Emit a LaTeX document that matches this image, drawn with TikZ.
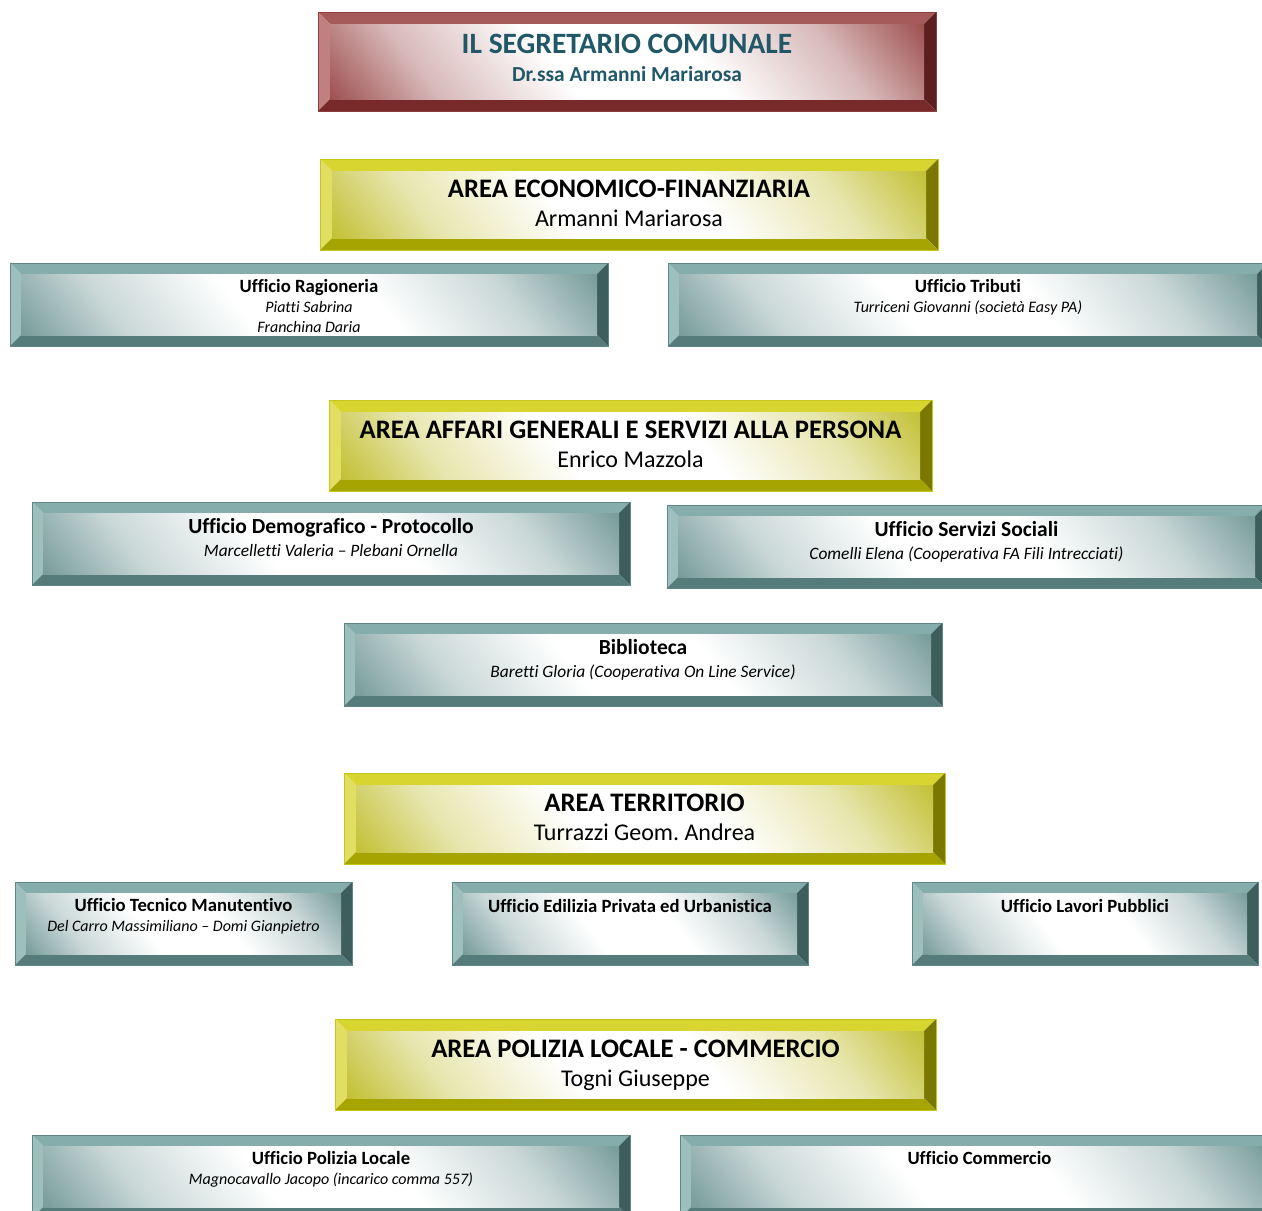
\documentclass[tikz,border=0pt]{standalone}
\usepackage{fontspec}
\setmainfont{Carlito}[Ligatures={NoCommon}]
\usetikzlibrary{calc}
\frenchspacing
% red scheme
\definecolor{redT}{HTML}{A65B5B}
\definecolor{redL}{HTML}{C08080}
\definecolor{redR}{HTML}{5C1F1F}
\definecolor{redB}{HTML}{782A2A}
\definecolor{redE}{HTML}{8E3B3B}
\definecolor{redC}{HTML}{9E5050}
% yellow scheme
\definecolor{yelT}{HTML}{D8D530}
\definecolor{yelL}{HTML}{E1DE62}
\definecolor{yelR}{HTML}{7A7800}
\definecolor{yelB}{HTML}{A6A400}
\definecolor{yelE}{HTML}{C8C61E}
\definecolor{yelC}{HTML}{C3C035}
% teal scheme
\definecolor{tealT}{HTML}{84ADAB}
\definecolor{tealL}{HTML}{9DC0BE}
\definecolor{tealR}{HTML}{3E5E5D}
\definecolor{tealB}{HTML}{557C7B}
\definecolor{tealE}{HTML}{5F8786}
\definecolor{tealC}{HTML}{779C9A}
\definecolor{segText}{HTML}{215868}
\colorlet{redM}{redC!40!white}
\colorlet{yelM}{yelC!40!white}
\colorlet{tealM}{tealC!40!white}
\pgfdeclarehorizontalshading{redIn}{100bp}{color(0bp)=(redC); color(15bp)=(redC); color(27bp)=(redM); color(42bp)=(white); color(58bp)=(white); color(73bp)=(redM); color(85bp)=(redC); color(100bp)=(redC)}
\pgfdeclarehorizontalshading{yelIn}{100bp}{color(0bp)=(yelC); color(15bp)=(yelC); color(27bp)=(yelM); color(42bp)=(white); color(58bp)=(white); color(73bp)=(yelM); color(85bp)=(yelC); color(100bp)=(yelC)}
\pgfdeclarehorizontalshading{tealIn}{100bp}{color(0bp)=(tealC); color(15bp)=(tealC); color(27bp)=(tealM); color(42bp)=(white); color(58bp)=(white); color(73bp)=(tealM); color(85bp)=(tealC); color(100bp)=(tealC)}
\newcommand{\bevbox}[7]{%
 \fill[#2T] (#3,#4) -- (#5,#4) -- ({#5-#7},{#4+#7}) -- ({#3+#7},{#4+#7}) -- cycle;
 \fill[#2L] (#3,#4) -- ({#3+#7},{#4+#7}) -- ({#3+#7},{#6-#7}) -- (#3,#6) -- cycle;
 \fill[#2R] (#5,#4) -- (#5,#6) -- ({#5-#7},{#6-#7}) -- ({#5-#7},{#4+#7}) -- cycle;
 \fill[#2B] (#3,#6) -- (#5,#6) -- ({#5-#7},{#6-#7}) -- ({#3+#7},{#6-#7}) -- cycle;
 \shade[shading=#2In, shading angle=38] ({#3+#7},{#4+#7}) rectangle ({#5-#7},{#6-#7});
 \draw[#2E, line width=1pt] (#3,#4) rectangle (#5,#6);
 \node[inner sep=0pt, minimum width={#5-#3}, minimum height={#6-#4}] (#1) at ({(#3+#5)/2},{(#4+#6)/2}) {};
}
\tikzset{
 txt/.style={anchor=base, inner sep=0pt},
 segtitle/.style={txt, text=segText, font=\fontsize{29.5}{34}\selectfont\bfseries},
 segsub/.style={txt, text=segText, font=\fontsize{21.4}{25}\selectfont\bfseries},
 areatitle/.style={txt, font=\fontsize{26.7}{31}\selectfont\bfseries},
 areaname/.style={txt, font=\fontsize{24}{28}\selectfont},
 offtitle/.style={txt, font=\fontsize{18.7}{22}\selectfont\bfseries},
 offbig/.style={txt, font=\fontsize{21.5}{25}\selectfont\bfseries},
 offname/.style={txt, font=\fontsize{16}{19}\selectfont\itshape},
 offnamebig/.style={txt, font=\fontsize{17.4}{20}\selectfont\itshape},
}
\begin{document}
\begin{tikzpicture}[x=1pt,y=-1pt]
\useasboundingbox (0,0) rectangle (1262,1211);
\clip (0,0) rectangle (1262,1211);
\fill[white] (0,0) rectangle (1262,1211);
% Segretario
\bevbox{seg}{red}{318}{12}{936}{111}{12}
\node[segtitle] (seg-t) at ($(seg.north)+(0,41.5)$) {IL SEGRETARIO COMUNALE};
\node[segsub] (seg-n) at ($(seg.north)+(0,69.5)$) {Dr.ssa Armanni Mariarosa};
% Area economico
\bevbox{eco}{yel}{320}{159}{938}{250}{12}
\node[areatitle] (eco-t) at ($(eco.north)+(0,38.6)$) {AREA ECONOMICO-FINANZIARIA};
\node[areaname] (eco-n) at ($(eco.north)+(0,67.7)$) {Armanni Mariarosa};
\bevbox{rag}{teal}{10}{263}{608}{346}{11}
\node[offtitle] (rag-t) at ($(rag.north)+(0,29.5)$) {Ufficio Ragioneria};
\node[offname] (rag-n1) at ($(rag.north)+(0,49.5)$) {Piatti Sabrina};
\node[offname] (rag-n2) at ($(rag.north)+(0,69.5)$) {Franchina Daria};
\bevbox{trib}{teal}{668}{263}{1268}{346}{11}
\node[offtitle] (trib-t) at ($(trib.north)+(0,29.5)$) {Ufficio Tributi};
\node[offname] (trib-n) at ($(trib.north)+(0,49.5)$) {Turriceni Giovanni (società Easy PA)};
% Area affari generali
\bevbox{aff}{yel}{329}{400}{932}{491}{12}
\node[areatitle] (aff-t) at ($(aff.north)+(0,38.6)$) {AREA AFFARI GENERALI E SERVIZI ALLA PERSONA};
\node[areaname] (aff-n) at ($(aff.north)+(0,67.7)$) {Enrico Mazzola};
\bevbox{demo}{teal}{32}{502}{630}{585}{11}
\node[offbig] (demo-t) at ($(demo.north)+(0,32)$) {Ufficio Demografico - Protocollo};
\node[offnamebig] (demo-n) at ($(demo.north)+(0,54.5)$) {Marcelletti Valeria – Plebani Ornella};
\bevbox{serv}{teal}{667}{505}{1266}{588}{11}
\node[offbig] (serv-t) at ($(serv.north)+(0,31.5)$) {Ufficio Servizi Sociali};
\node[offnamebig] (serv-n) at ($(serv.north)+(0,54.5)$) {Comelli Elena (Cooperativa FA Fili Intrecciati)};
\bevbox{bib}{teal}{344}{623}{942}{706}{11}
\node[offbig] (bib-t) at ($(bib.north)+(0,31.5)$) {Biblioteca};
\node[offnamebig] (bib-n) at ($(bib.north)+(0,54.5)$) {Baretti Gloria (Cooperativa On Line Service)};
% Area territorio
\bevbox{terr}{yel}{344}{773}{945}{864}{12}
\node[areatitle] (terr-t) at ($(terr.north)+(0,38.6)$) {AREA TERRITORIO};
\node[areaname] (terr-n) at ($(terr.north)+(0,67.7)$) {Turrazzi Geom. Andrea};
\bevbox{tec}{teal}{15}{882}{352}{965}{11}
\node[offtitle] (tec-t) at ($(tec.north)+(0,29.5)$) {Ufficio Tecnico Manutentivo};
\node[offname] (tec-n) at ($(tec.north)+(0,50)$) {Del Carro Massimiliano – Domi Gianpietro};
\bevbox{edi}{teal}{452}{882}{808}{965}{11}
\node[offtitle] (edi-t) at ($(edi.north)+(0,30.5)$) {Ufficio Edilizia Privata ed Urbanistica};
\bevbox{lav}{teal}{912}{882}{1258}{965}{11}
\node[offtitle] (lav-t) at ($(lav.north)+(0,30.5)$) {Ufficio Lavori Pubblici};
% Area polizia
\bevbox{pol}{yel}{335}{1019}{936}{1110}{12}
\node[areatitle] (pol-t) at ($(pol.north)+(0,38.6)$) {AREA POLIZIA LOCALE - COMMERCIO};
\node[areaname] (pol-n) at ($(pol.north)+(0,67.7)$) {Togni Giuseppe};
\bevbox{pl}{teal}{32}{1135}{630}{1218}{11}
\node[offtitle] (pl-t) at ($(pl.north)+(0,29.5)$) {Ufficio Polizia Locale};
\node[offname] (pl-n) at ($(pl.north)+(0,50)$) {Magnocavallo Jacopo (incarico comma 557)};
\bevbox{com}{teal}{680}{1135}{1279}{1218}{11}
\node[offtitle] (com-t) at ($(com.north)+(0,29.5)$) {Ufficio Commercio};
\end{tikzpicture}
\end{document}
